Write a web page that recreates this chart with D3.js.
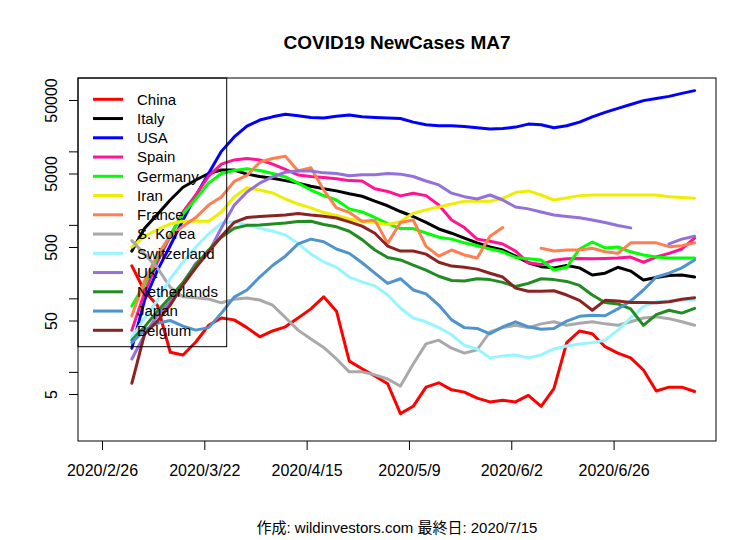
<!DOCTYPE html>
<html>
<head>
<meta charset="utf-8">
<script src="https://cdn.jsdelivr.net/npm/d3@7"></script>
<style>
body { margin: 0; background: #fff; }
text { font-family: "Liberation Sans", Arial, sans-serif; }
</style>
</head>
<body>
<script>
// day index (1 = 2020/2/26), every 3rd day of the 7-day moving average
var dayIdx = [8, 11, 14, 17, 20, 23, 26, 29, 32, 35, 38, 41, 44, 47, 50, 53, 56, 59, 62, 65, 68, 71, 74,
  77, 80, 83, 86, 89, 92, 95, 98, 101, 104, 107, 110, 113, 116, 119, 122, 125, 128, 131, 134, 137, 140];

var tickIdx = [1, 25, 49, 73, 97, 121];
var tickLabels = ["2020/2/26", "2020/3/22", "2020/4/15", "2020/5/9", "2020/6/2", "2020/6/26"];
var yTicks = [5, 10, 50, 100, 500, 1000, 5000, 10000, 50000];
var yLabels = [5, 50, 500, 5000, 50000];

var countries = ["China", "Italy", "USA", "Spain", "Germany", "Iran", "France", "S. Korea",
  "Switzerland", "UK", "Netherlands", "Japan", "Belgium"];
var colors = ["#ff0000", "#000000", "#0000ff", "#ff1493", "#00ff00", "#eeee00", "#ff7f50", "#a9a9a9",
  "#98f5ff", "#9370db", "#228b22", "#4f94cd", "#8b2323"];

var china = [277, 125, 80, 18.5, 17, 25.5, 43, 54, 51, 40, 30, 36, 41, 54, 72, 105, 67, 14, 11, 8.8, 6.9, 2.7, 3.4,
  6.2, 7.1, 5.7, 5.3, 4.4, 3.9, 4.1, 3.9, 4.8, 3.4, 5.9, 25, 36, 33, 22, 18, 15.5, 10.6, 5.5, 6.2, 6.2, 5.4];
var italy = [440, 900, 1390, 2180, 3250, 4080, 5000, 5580, 5580, 4900, 4550, 4300, 4000, 3700, 3350, 3100, 2900, 2650, 2450, 2100, 1820, 1520, 1300,
  1080, 880, 770, 660, 570, 500, 455, 375, 305, 270, 260, 280, 260, 208, 220, 265, 235, 178, 192, 205, 208, 195];
var usa = [21, 95, 240, 520, 1165, 2500, 5000, 10000, 15700, 22000, 26700, 29500, 32000, 30500, 29000, 28500, 30000, 31300, 29500, 29000, 28500, 28000, 25000,
  23000, 22300, 22300, 21800, 21000, 20200, 20500, 21400, 23500, 23000, 21000, 22300, 25000, 29500, 34000, 38500, 43500, 49000, 52500, 56000, 61500, 67000];
var spain = [37, 120, 315, 700, 1500, 2550, 4600, 6700, 7650, 8000, 7650, 6700, 5700, 4770, 4550, 4400, 4250, 4000, 3950, 3100, 2850, 2480, 2700,
  2500, 1860, 1165, 920, 640, 600, 550, 440, 305, 290, 330, 345, 350, 345, 350, 355, 365, 310, 365, 410, 470, 660];
var germany = [79, 155, 360, 730, 1410, 2250, 3700, 5000, 5500, 5800, 5500, 5000, 4500, 3700, 2980, 2500, 2180, 1650, 1500, 1260, 1040, 890, 890,
  775, 680, 640, 570, 520, 470, 430, 360, 345, 333, 243, 265, 470, 585, 485, 500, 430, 390, 365, 355, 355, 355];
var iran = [500, 700, 860, 1030, 1120, 1120, 1120, 1500, 2400, 3200, 2980, 2720, 2250, 1920, 1700, 1470, 1340, 1200, 1110, 1080, 1010, 1100, 1440,
  1600, 1750, 1920, 2100, 2100, 2100, 2300, 2750, 2900, 2550, 2180, 2330, 2500, 2550, 2550, 2550, 2550, 2550, 2550, 2420, 2350, 2300];
var france = [58, 175, 390, 700, 960, 1260, 1860, 2400, 3900, 4700, 7100, 8000, 8600, 5400, 6000, 2980, 1700, 1480, 1120, 1160, 560, 1080, 1165,
  510, 375, 455, 390, 355, 700, 920, null, null, 480, 440, 455, 455, 480, 430, 410, 570, 570, 570, 505, 520, 570];
var korea = [610, 400, 260, 142, 105, 102, 98, 87, 97, 101, 95, 81, 55, 37, 28, 21.5, 15, 10, 10, 9.1, 8.0, 6.4, 12.8,
  24, 27, 21, 18, 20, 35, 40, 43, 40, 45, 48, 43, 46, 48, 45, 43, 48, 54, 56, 53, 48, 43];
var switzerland = [29, 54, 95, 185, 310, 500, 750, 1060, 1100, 995, 900, 820, 730, 560, 400, 315, 265, 195, 168, 148, 111, 74, 54,
  48, 40, 32, 23, 20.5, 15.5, 16.5, 17, 15.5, 17, 20.5, 22.5, 24, 25, 27, 37, 54, 78, 90, 92, 94, 95];
var uk = [15, 32, 59, 90, 160, 300, 420, 910, 1850, 2800, 3700, 4500, 5200, 5400, 5400, 5100, 5000, 4650, 4800, 4800, 5000, 4900, 4550,
  3950, 3500, 2700, 2420, 2250, 2550, 2180, 1750, 1650, 1500, 1360, 1300, 1250, 1165, 1080, 980, 910, null, null, 550, 640, 700];
var netherlands = [27, 41, 67, 104, 165, 284, 455, 680, 900, 985, 995, 1030, 1060, 1110, 1120, 1010, 940, 820, 630, 455, 360, 333, 284,
  243, 200, 175, 172, 185, 180, 165, 145, 160, 185, 180, 170, 150, 111, 88, 84, 72, 43, 60, 69, 63, 73];
var japan = [25, 37, 46, 50, 42, 37, 40, 63, 104, 130, 195, 280, 375, 550, 640, 590, 470, 410, 305, 220, 160, 185, 130,
  115, 81, 51, 40, 39, 33, 41, 48, 41, 38, 39, 49, 57, 59, 58, 72, 92, 130, 195, 220, 260, 333];
var belgium = [7, 33, 49, 81, 152, 260, 430, 700, 1080, 1260, 1300, 1330, 1360, 1430, 1360, 1310, 1240, 1100, 960, 770, 515, 440, 440,
  400, 310, 275, 265, 250, 220, 195, 138, 125, 125, 127, 111, 94, 69, 94, 92, 88, 88, 87, 90, 97, 102];

var series = [china, italy, usa, spain, germany, iran, france, korea, switzerland, uk, netherlands, japan, belgium];

var box = {left: 78, right: 716, top: 78, bottom: 441};

var svg = d3.select("body")
  .append("svg")
  .attr("width", 756)
  .attr("height", 540);

var x = d3.scaleLinear().domain([1, 121]).range([102, 613.6]);
var y = d3.scaleLog().domain([5, 50000]).range([394, 100]);

svg.append("clipPath").attr("id", "plotclip")
  .append("rect")
  .attr("x", box.left).attr("y", box.top)
  .attr("width", box.right - box.left).attr("height", box.bottom - box.top);

// lines, drawn in legend order so Belgium ends on top
var line = d3.line()
  .defined(function(d) { return d[1] != null; })
  .x(function(d) { return x(d[0]); })
  .y(function(d) { return y(d[1]); });

svg.append("g").attr("clip-path", "url(#plotclip)")
  .selectAll("path")
  .data(series)
  .enter().append("path")
  .attr("fill", "none")
  .attr("stroke", function(d, i) { return colors[i]; })
  .attr("stroke-width", 3)
  .attr("stroke-linejoin", "round")
  .attr("stroke-linecap", "round")
  .attr("d", function(vals) { return line(vals.map(function(v, j) { return [dayIdx[j], v]; })); });

// x axis
var xAxis = svg.append("g")
  .attr("transform", "translate(0," + box.bottom + ")")
  .call(d3.axisBottom(x).tickValues(tickIdx)
    .tickFormat(function(d, i) { return tickLabels[i]; })
    .tickSize(9).tickPadding(15));
xAxis.select(".domain").remove();
xAxis.selectAll("text").attr("font-size", 16).attr("fill", "#000")
  .style("font-family", "'Liberation Sans', Arial, sans-serif");
xAxis.selectAll("line").attr("stroke", "#000");

// y axis, labels turned like R's default las=0
var yAxis = svg.append("g")
  .attr("transform", "translate(" + box.left + ",0)")
  .call(d3.axisLeft(y).tickValues(yTicks)
    .tickFormat(function(d) { return yLabels.indexOf(d) >= 0 ? String(d) : ""; })
    .tickSize(9));
yAxis.select(".domain").remove();
yAxis.selectAll("line").attr("stroke", "#000");
yAxis.selectAll("text")
  .attr("x", null).attr("dy", null)
  .attr("text-anchor", "middle")
  .attr("transform", "translate(-21,0) rotate(-90)")
  .attr("font-size", 16).attr("fill", "#000")
  .style("font-family", "'Liberation Sans', Arial, sans-serif");

// plot box
svg.append("rect")
  .attr("x", box.left).attr("y", box.top)
  .attr("width", box.right - box.left).attr("height", box.bottom - box.top)
  .attr("fill", "none").attr("stroke", "#000").attr("stroke-width", 1);

// legend
var leg = svg.append("g");
leg.append("rect")
  .attr("x", box.left).attr("y", box.top)
  .attr("width", 148.7).attr("height", 268.7)
  .attr("fill", "none").attr("stroke", "#000").attr("stroke-width", 1);

var rows = leg.selectAll(".row")
  .data(countries)
  .enter().append("g")
  .attr("class", "row")
  .attr("transform", function(d, i) { return "translate(0," + (99.3 + i * 19.25) + ")"; });
rows.append("line")
  .attr("x1", 93).attr("x2", 123)
  .attr("stroke", function(d, i) { return colors[i]; })
  .attr("stroke-width", 3);
rows.append("text")
  .attr("x", 137).attr("dy", "0.36em")
  .attr("font-size", 15)
  .text(function(d) { return d; });

// title and footer
svg.append("text")
  .attr("x", (box.left + box.right) / 2).attr("y", 49)
  .attr("text-anchor", "middle")
  .attr("font-size", 19).attr("font-weight", "bold")
  .text("COVID19 NewCases MA7");

svg.append("text")
  .attr("x", (box.left + box.right) / 2).attr("y", 533)
  .attr("text-anchor", "middle")
  .attr("font-size", 15)
  .style("font-family", "'Liberation Sans', 'Noto Sans CJK JP', sans-serif")
  .text("作成: wildinvestors.com 最終日: 2020/7/15");
</script>
</body>
</html>
